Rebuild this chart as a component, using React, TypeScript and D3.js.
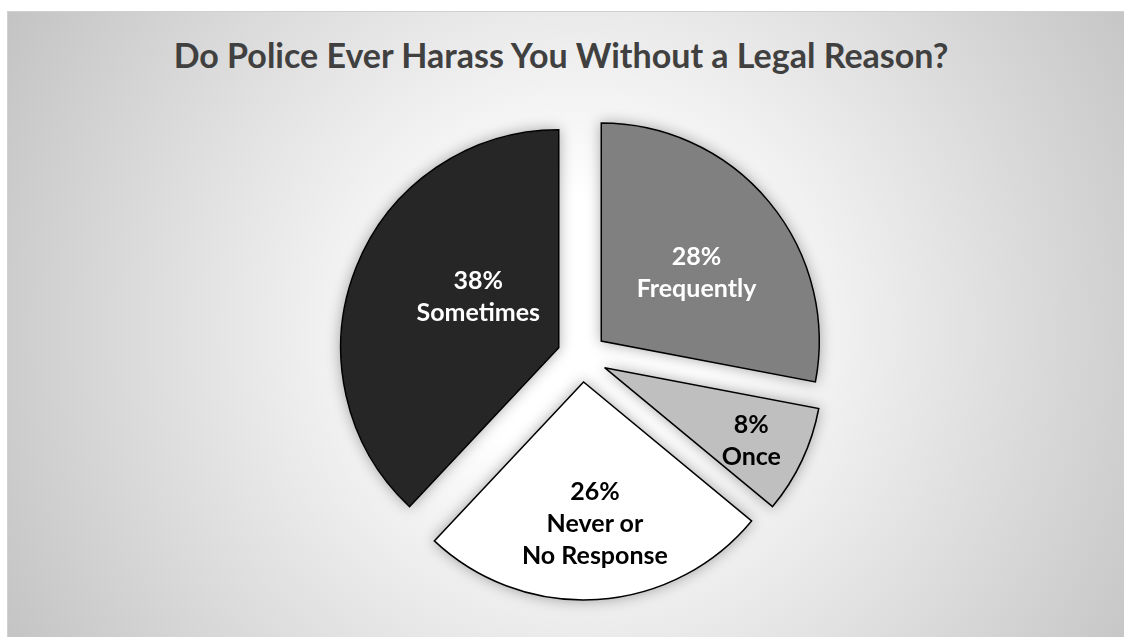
import React from "react";
import * as d3 from "d3";

const categories = ["Frequently", "Once", "Never or No Response", "Sometimes"];
const categoryLines = [["Frequently"], ["Once"], ["Never or", "No Response"], ["Sometimes"]];
const values = [28, 8, 26, 38];
const sliceColors = ["#808080", "#bfbfbf", "#ffffff", "#262626"];
const labelColors = ["#ffffff", "#000000", "#000000", "#ffffff"];
const title = "Do Police Ever Harass You Without a Legal Reason?";

// label placement (fraction of radius, angle shift in degrees) relative to each exploded slice
const labelRadiusFrac = [0.54, 0.75, 0.65, 0.44];
const labelAngleShift = [3.6, 1, -1, 11.4];

const W = 1124;
const H = 637;
const CX = 582;
const CY = 357;
const R = 218;
const EXPLODE = 25;
const FONT = "Lato, 'Open Sans', sans-serif";
const LINE_H = 32;

export default function App() {
  const pie = d3
    .pie<number>()
    .sort(null)
    .value((d) => d)
    .startAngle(0)
    .endAngle(2 * Math.PI);
  const arcs = pie(values);
  const arcGen = d3.arc<d3.PieArcDatum<number>>().innerRadius(0).outerRadius(R);

  return (
    <svg
      width={W}
      height={H}
      style={{ position: "absolute", left: 0, top: 0 }}
      xmlns="http://www.w3.org/2000/svg"
    >
      <defs>
        <radialGradient id="bg" gradientUnits="userSpaceOnUse" cx={580} cy={330} r={650}>
          <stop offset="0" stopColor="#ffffff" />
          <stop offset="0.2" stopColor="#ffffff" />
          <stop offset="1" stopColor="#c4c4c4" />
        </radialGradient>
        <filter id="shadow" x="-30%" y="-30%" width="160%" height="160%">
          <feDropShadow dx="0" dy="0" stdDeviation="7" floodColor="#000" floodOpacity="0.33" />
        </filter>
      </defs>
      <rect x={7.5} y={11.5} width={W + 20} height={H + 20} fill="url(#bg)" stroke="#d0d0d0" strokeWidth={1} />
      <text
        x={561}
        y={68}
        textAnchor="middle"
        fontFamily={FONT}
        fontWeight={700}
        fontSize={34}
        fill="#404040"
      >
        {title}
      </text>
      <g filter="url(#shadow)">
        {arcs.map((a, i) => {
          const mid = (a.startAngle + a.endAngle) / 2;
          const ox = CX + EXPLODE * Math.sin(mid);
          const oy = CY - EXPLODE * Math.cos(mid);
          return (
            <path
              key={categories[i]}
              d={arcGen(a) || ""}
              transform={`translate(${ox},${oy})`}
              fill={sliceColors[i]}
              stroke="#000"
              strokeWidth={1.5}
              strokeLinejoin="miter"
            />
          );
        })}
      </g>
      {arcs.map((a, i) => {
        const mid = (a.startAngle + a.endAngle) / 2;
        const ox = CX + EXPLODE * Math.sin(mid);
        const oy = CY - EXPLODE * Math.cos(mid);
        const ang = mid + (labelAngleShift[i] * Math.PI) / 180;
        const lr = labelRadiusFrac[i] * R;
        const lx = ox + lr * Math.sin(ang);
        const ly = oy - lr * Math.cos(ang);
        const lines = [`${values[i]}%`, ...categoryLines[i]];
        const n = lines.length;
        return (
          <text
            key={"l" + i}
            textAnchor="middle"
            fontFamily={FONT}
            fontWeight={700}
            fontSize={25}
            fill={labelColors[i]}
          >
            {lines.map((t, j) => (
              <tspan key={j} x={lx} y={ly + (j - (n - 1) / 2) * LINE_H + 9}>
                {t}
              </tspan>
            ))}
          </text>
        );
      })}
    </svg>
  );
}
